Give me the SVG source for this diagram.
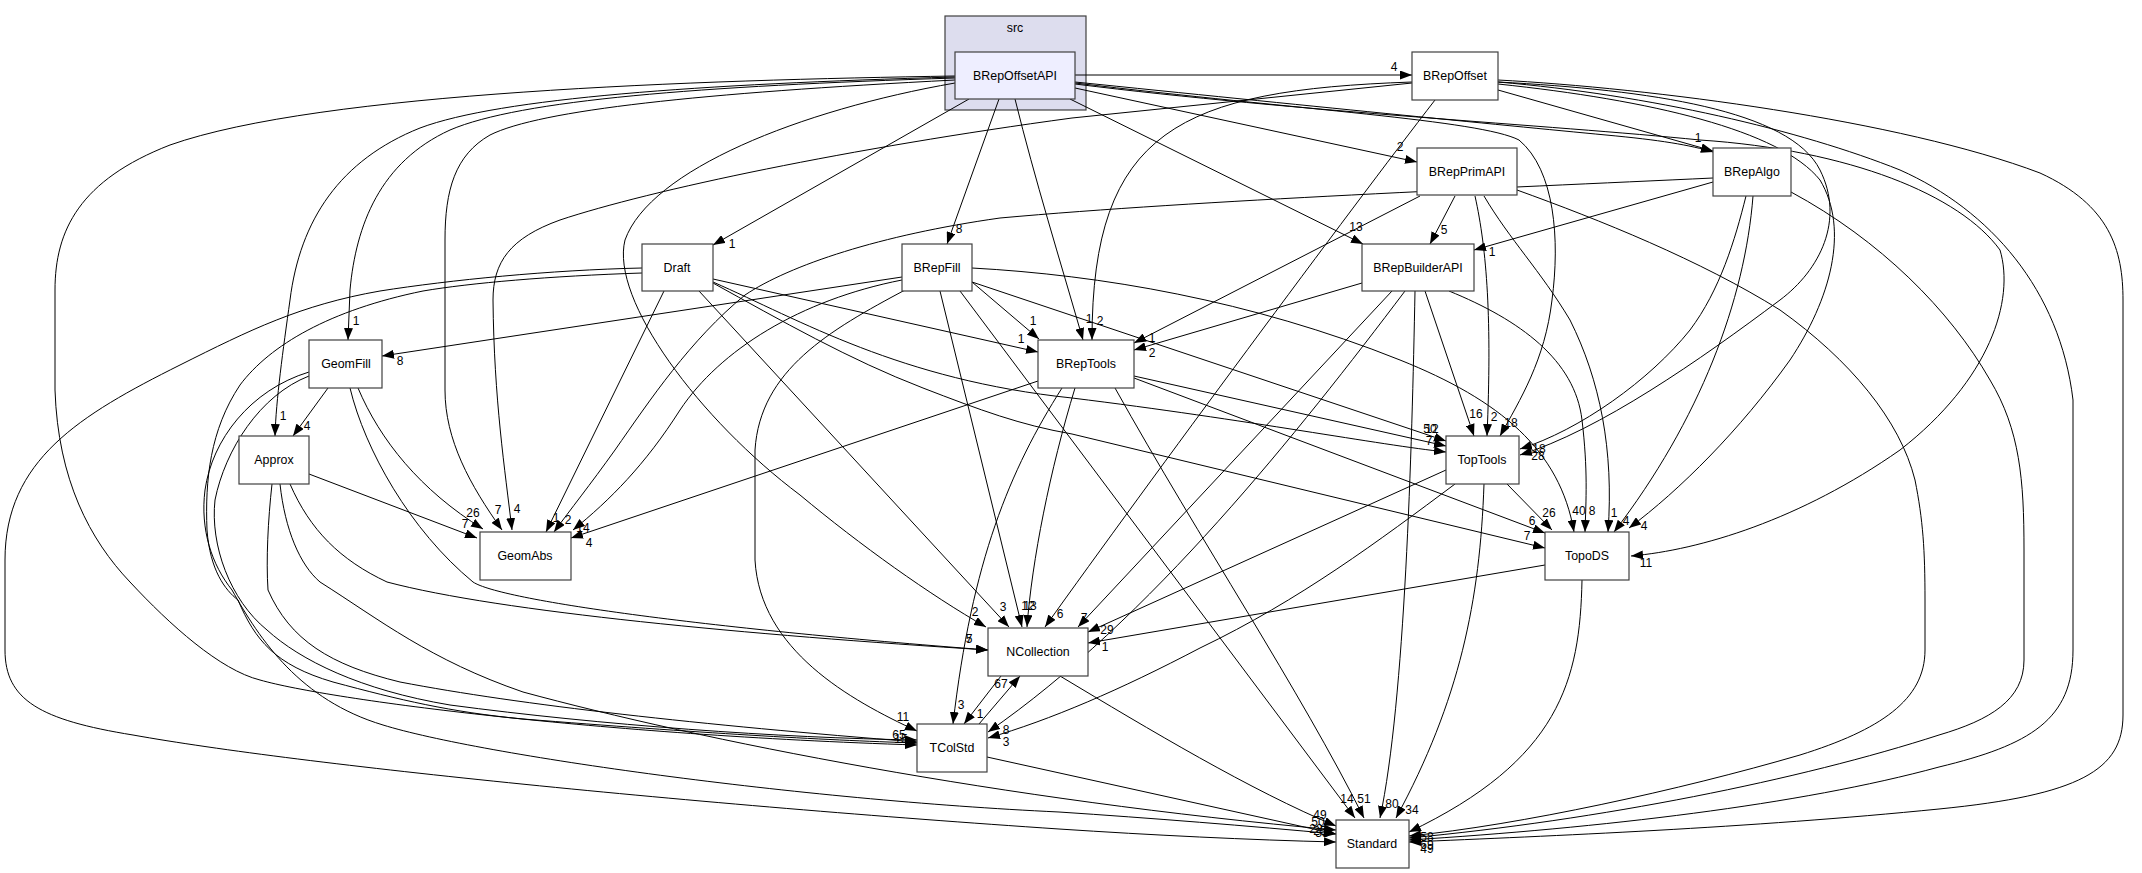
<svg xmlns="http://www.w3.org/2000/svg" width="2142" height="873" viewBox="0 0 2142 873">
<style>
.n rect{fill:#fff;stroke:#404040;stroke-width:1.2}
.n text{font-family:"Liberation Sans",Arial,sans-serif;font-size:12.4px;text-anchor:middle;fill:#000}
.e path{fill:none;stroke:#000;stroke-width:1;marker-end:url(#a)}
.l text{font-family:"Liberation Sans",Arial,sans-serif;font-size:12px;text-anchor:middle;fill:#000}
</style>
<defs>
<marker id="a" viewBox="0 0 12 9" refX="12" refY="4.5" markerWidth="12" markerHeight="9" markerUnits="userSpaceOnUse" orient="auto"><path d="M0,0 L12,4.5 L0,9 z" fill="#000"/></marker>
</defs>
<rect width="2142" height="873" fill="#fff"/>
<g id="cluster_src">
<rect x="945" y="16" width="141" height="94" fill="#ddddee" stroke="#404040" stroke-width="1.2"/>
<text x="1015" y="32" font-family="Liberation Sans,Arial,sans-serif" font-size="12.4" text-anchor="middle">src</text>
</g>
<g class="e" id="edges">
<path d="M1075,75 L1412,75"/>
<path d="M1075,88 L1417,162"/>
<path d="M1070,99 L1363,244"/>
<path d="M1075,82 C1300,105 1500,125 1606,135 C1660,140 1690,145 1713,152"/>
<path d="M1498,90 L1713,151"/>
<path d="M969,99 L713,245"/>
<path d="M999,99 L947,244"/>
<path d="M1015,99 C1035,180 1060,260 1083,340"/>
<path d="M1412,82 C1180,90 1092,130 1092,340"/>
<path d="M713,279 L1038,352"/>
<path d="M972,282 L1039,339"/>
<path d="M1420,196 L1134,343"/>
<path d="M1362,283 L1134,350"/>
<path d="M1455,196 L1430,244"/>
<path d="M1713,182 L1474,250"/>
<path d="M955,78 C700,86 520,100 450,130 C380,162 356,225 350,290 L348,340"/>
<path d="M955,77 C700,84 500,98 420,128 C340,160 300,220 290,300 C283,350 276,400 275,436"/>
<path d="M955,80 C700,93 540,110 490,135 C455,155 445,190 445,240 L445,390 C445,440 470,485 502,530"/>
<path d="M955,76 C700,80 320,92 170,145 C80,180 55,230 55,290 L55,390 C58,480 90,540 130,582 C170,625 220,670 260,680 C330,700 600,735 917,745"/>
<path d="M1412,83 L1072,118 C850,148 650,190 560,220 C510,238 493,262 493,300 C494,400 505,470 512,530"/>
<path d="M902,277 L382,356"/>
<path d="M328,388 L293,436"/>
<path d="M309,474 L477,538"/>
<path d="M358,388 C380,440 420,490 483,529"/>
<path d="M664,291 L546,532"/>
<path d="M1713,178 C1500,188 1200,200 1000,218 C880,235 790,265 745,295 C690,340 650,400 615,450 C590,485 570,510 554,532"/>
<path d="M902,280 C800,300 720,350 680,410 C645,465 610,500 573,530"/>
<path d="M1038,381 L571,538"/>
<path d="M955,83 C800,110 650,170 625,240 C610,300 700,420 800,495 C860,545 930,595 986,627"/>
<path d="M699,291 L1009,627"/>
<path d="M940,291 L1022,627"/>
<path d="M1075,388 C1050,470 1032,560 1027,627"/>
<path d="M1435,100 C1350,210 1150,480 1045,627"/>
<path d="M1392,291 L1078,627"/>
<path d="M1446,470 L1088,632"/>
<path d="M1545,565 L1088,643"/>
<path d="M979,724 L1020,676"/>
<path d="M1001,676 L964,724"/>
<path d="M1062,388 C1010,470 972,560 953,724"/>
<path d="M905,290 C830,330 760,370 755,450 L755,560 C760,650 850,700 917,731"/>
<path d="M1405,291 C1300,430 1150,620 988,732"/>
<path d="M1455,484 C1380,540 1300,600 1200,648 C1120,690 1050,720 988,738"/>
<path d="M642,268 C550,270 450,280 380,291 C300,305 250,330 180,365 C80,415 5,460 5,560 L5,650 C5,700 40,720 133,735 C300,765 700,805 1059,829 C1150,835 1250,840 1336,842"/>
<path d="M642,273 C550,276 470,283 423,291 C330,310 270,345 240,385 C210,430 205,480 207,530 C210,570 225,590 238,600 C255,640 275,665 333,682 C400,700 450,712 523,719 C700,733 820,740 917,743"/>
<path d="M309,372 C250,390 212,440 205,490 C200,530 212,565 232,590 C260,640 300,700 383,725 C480,755 800,800 1059,812 C1150,818 1250,826 1336,834"/>
<path d="M309,376 C260,395 225,450 215,500 C210,545 230,600 267,630 C300,660 360,690 450,705 C600,725 780,738 917,740"/>
<path d="M350,388 C365,450 410,530 473,582 C500,600 700,628 988,650"/>
<path d="M290,484 C310,530 340,560 387,582 C500,612 750,635 988,650"/>
<path d="M272,484 C268,520 266,560 268,590 C290,640 330,665 400,682 C520,705 700,725 917,742"/>
<path d="M280,484 C285,530 300,565 320,582 C380,620 430,660 523,692 C700,740 1000,800 1336,830"/>
<path d="M1060,676 C1150,730 1250,790 1336,826"/>
<path d="M987,757 L1336,834"/>
<path d="M960,291 L1355,818"/>
<path d="M1115,388 C1200,540 1300,690 1364,818"/>
<path d="M1415,291 C1412,450 1405,700 1380,818"/>
<path d="M1484,484 C1480,600 1460,700 1396,818"/>
<path d="M1582,580 C1580,680 1560,760 1409,832"/>
<path d="M1517,190 C1600,220 1700,260 1780,310 C1850,360 1900,420 1915,480 C1923,520 1925,550 1925,600 L1925,650 C1925,700 1880,730 1800,755 C1680,790 1520,825 1409,836"/>
<path d="M1791,192 C1880,240 1950,310 1990,380 C2020,430 2024,480 2024,550 L2024,660 C2024,700 1990,720 1939,735 C1800,780 1600,820 1409,838"/>
<path d="M1498,82 C1650,95 1800,130 1900,170 C1990,210 2060,290 2073,400 L2073,650 C2073,720 2030,745 1939,767 C1800,805 1600,828 1409,840"/>
<path d="M1498,80 C1650,88 1900,120 2040,173 C2110,205 2123,250 2123,300 L2123,715 C2123,770 2080,795 1939,809 C1750,828 1550,836 1409,842"/>
<path d="M1075,83 C1300,110 1480,120 1519,140 C1555,170 1560,240 1552,300 C1545,360 1520,400 1500,436"/>
<path d="M1475,196 C1487,250 1492,320 1487,436"/>
<path d="M1425,291 L1474,436"/>
<path d="M972,282 L1446,441"/>
<path d="M1134,376 L1446,446"/>
<path d="M713,282 C800,320 900,380 1072,398 C1250,420 1380,445 1446,452"/>
<path d="M1746,196 C1735,240 1720,290 1690,330 C1650,380 1580,430 1520,449"/>
<path d="M1498,82 C1650,90 1790,110 1820,170 C1845,220 1820,270 1780,300 C1700,360 1600,430 1520,455"/>
<path d="M1507,484 L1552,530"/>
<path d="M972,268 C1100,275 1250,300 1400,360 C1500,400 1560,450 1574,532"/>
<path d="M1449,291 C1520,320 1575,360 1582,420 C1588,470 1586,500 1585,532"/>
<path d="M1484,196 C1510,240 1540,270 1570,320 C1600,380 1614,450 1608,532"/>
<path d="M1753,196 C1745,300 1700,420 1614,532"/>
<path d="M1498,84 C1650,100 1780,130 1820,180 C1850,230 1830,300 1790,360 C1740,430 1680,490 1629,528"/>
<path d="M1075,84 C1300,112 1550,125 1700,140 C1850,150 1960,195 2000,250 C2015,300 1990,380 1900,450 C1800,520 1700,550 1631,556"/>
<path d="M713,283 C780,320 850,360 923,388 C980,410 1020,425 1072,434 L1545,548"/>
<path d="M1134,378 L1545,533"/>
</g>
<g class="l" id="edge-labels">
<text x="1394" y="71">4</text>
<text x="1400" y="151">2</text>
<text x="1356" y="231">13</text>
<text x="1698" y="142">1</text>
<text x="732" y="248">1</text>
<text x="959" y="233">8</text>
<text x="1089" y="323">1</text>
<text x="1100" y="325">2</text>
<text x="1021" y="343">1</text>
<text x="1033" y="325">1</text>
<text x="1152" y="342">1</text>
<text x="1152" y="357">2</text>
<text x="1444" y="234">5</text>
<text x="1492" y="256">1</text>
<text x="356" y="325">1</text>
<text x="283" y="420">1</text>
<text x="498" y="514">7</text>
<text x="517" y="513">4</text>
<text x="400" y="365">8</text>
<text x="307" y="430">4</text>
<text x="465" y="528">7</text>
<text x="473" y="517">26</text>
<text x="556" y="522">1</text>
<text x="568" y="524">2</text>
<text x="583" y="532">14</text>
<text x="589" y="547">4</text>
<text x="975" y="616">2</text>
<text x="1003" y="611">3</text>
<text x="1028" y="610">12</text>
<text x="1030" y="610">13</text>
<text x="1060" y="618">6</text>
<text x="1084" y="622">7</text>
<text x="1107" y="634">29</text>
<text x="1105" y="651">1</text>
<text x="969" y="643">5</text>
<text x="969" y="643">7</text>
<text x="1001" y="688">67</text>
<text x="980" y="718">1</text>
<text x="961" y="709">3</text>
<text x="903" y="721">11</text>
<text x="1006" y="734">8</text>
<text x="1006" y="746">3</text>
<text x="899" y="739">65</text>
<text x="901" y="743">15</text>
<text x="1347" y="803">14</text>
<text x="1364" y="803">51</text>
<text x="1392" y="808">80</text>
<text x="1412" y="814">34</text>
<text x="1320" y="819">49</text>
<text x="1318" y="826">50</text>
<text x="1316" y="833">22</text>
<text x="1320" y="835">25</text>
<text x="1322" y="837">33</text>
<text x="1427" y="841">58</text>
<text x="1427" y="849">69</text>
<text x="1427" y="853">49</text>
<text x="1511" y="427">18</text>
<text x="1494" y="421">2</text>
<text x="1476" y="418">16</text>
<text x="1432" y="433">12</text>
<text x="1430" y="433">50</text>
<text x="1429" y="445">7</text>
<text x="1539" y="453">18</text>
<text x="1538" y="460">28</text>
<text x="1549" y="517">26</text>
<text x="1579" y="515">40</text>
<text x="1592" y="515">8</text>
<text x="1614" y="517">1</text>
<text x="1626" y="525">4</text>
<text x="1644" y="530">4</text>
<text x="1646" y="567">11</text>
<text x="1527" y="540">7</text>
<text x="1532" y="525">6</text>
</g>
<g class="n" id="node_BRepOffsetAPI"><rect x="955" y="52" width="120" height="47" fill="#eeeeff" style="fill:#eeeeff"/><text x="1015" y="80">BRepOffsetAPI</text></g>
<g class="n" id="node_BRepOffset"><rect x="1412" y="52" width="86" height="48"/><text x="1455" y="80">BRepOffset</text></g>
<g class="n" id="node_BRepPrimAPI"><rect x="1417" y="148" width="100" height="47"/><text x="1467" y="176">BRepPrimAPI</text></g>
<g class="n" id="node_BRepAlgo"><rect x="1713" y="148" width="78" height="48"/><text x="1752" y="176">BRepAlgo</text></g>
<g class="n" id="node_Draft"><rect x="642" y="244" width="71" height="47"/><text x="677" y="272">Draft</text></g>
<g class="n" id="node_BRepFill"><rect x="902" y="244" width="70" height="47"/><text x="937" y="272">BRepFill</text></g>
<g class="n" id="node_BRepBuilderAPI"><rect x="1362" y="244" width="112" height="47"/><text x="1418" y="272">BRepBuilderAPI</text></g>
<g class="n" id="node_GeomFill"><rect x="309" y="340" width="73" height="48"/><text x="346" y="368">GeomFill</text></g>
<g class="n" id="node_BRepTools"><rect x="1038" y="340" width="96" height="48"/><text x="1086" y="368">BRepTools</text></g>
<g class="n" id="node_Approx"><rect x="239" y="436" width="70" height="48"/><text x="274" y="464">Approx</text></g>
<g class="n" id="node_TopTools"><rect x="1446" y="436" width="73" height="48"/><text x="1482" y="464">TopTools</text></g>
<g class="n" id="node_GeomAbs"><rect x="480" y="532" width="91" height="48"/><text x="525" y="560">GeomAbs</text></g>
<g class="n" id="node_TopoDS"><rect x="1545" y="532" width="84" height="48"/><text x="1587" y="560">TopoDS</text></g>
<g class="n" id="node_NCollection"><rect x="988" y="628" width="100" height="48"/><text x="1038" y="656">NCollection</text></g>
<g class="n" id="node_TColStd"><rect x="917" y="724" width="70" height="48"/><text x="952" y="752">TColStd</text></g>
<g class="n" id="node_Standard"><rect x="1336" y="820" width="73" height="48"/><text x="1372" y="848">Standard</text></g>
</svg>
